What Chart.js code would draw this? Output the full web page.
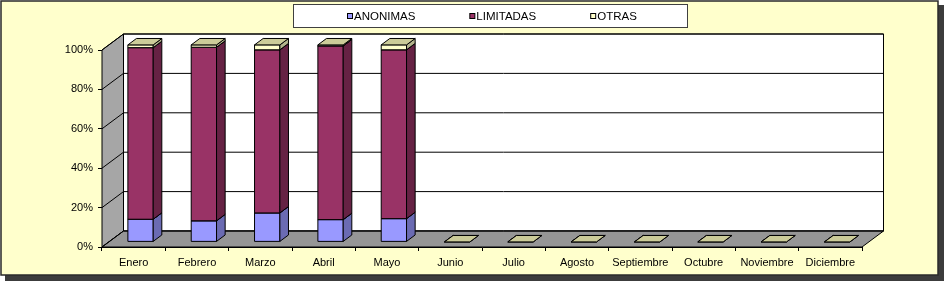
<!DOCTYPE html>
<html><head><meta charset="utf-8">
<script src="https://cdn.jsdelivr.net/npm/chart.js@4/dist/chart.umd.min.js"></script>
<style>html,body{margin:0;padding:0;background:#fff}#wrap{width:944px;height:281px}</style>
</head><body><div id="wrap"><canvas id="c" width="944" height="281"></canvas></div>
<script>
// ---- data ----
const months = ['Enero','Febrero','Marzo','Abril','Mayo','Junio','Julio','Agosto','Septiembre','Octubre','Noviembre','Diciembre'];
const seriesNames = ['ANONIMAS','LIMITADAS','OTRAS'];
const anonimas  = [11.5, 10.7, 14.7, 11.3, 11.8, 0, 0, 0, 0, 0, 0, 0];
const limitadas = [87.1, 88.1, 82.8, 88.2, 85.7, 0, 0, 0, 0, 0, 0, 0];
const otras     = [1.4, 1.2, 2.5, 0.5, 2.5, 0, 0, 0, 0, 0, 0, 0];
const yTickValues = [0, 20, 40, 60, 80, 100];

// ---- styles ----
const faceColors = [
  {front:'#9999FF', side:'#6B6BB3', top:'#7A7ACC'},
  {front:'#993366', side:'#662244', top:'#7A2952'},
  {front:'#FFFFCC', side:'#B3B38C', top:'#CCCC99'}
];
const DX = 21.5, DY = -16, FRONT = 0.32, DEPTH = 0.40;
const FONT = 'Arial, "Liberation Sans", sans-serif';

function poly(ctx, pts, fill, stroke){
  ctx.beginPath();
  ctx.moveTo(pts[0][0], pts[0][1]);
  for (let k=1;k<pts.length;k++) ctx.lineTo(pts[k][0], pts[k][1]);
  ctx.closePath();
  if (fill){ ctx.fillStyle = fill; ctx.fill(); }
  if (stroke){ ctx.strokeStyle = stroke; ctx.lineWidth = 1; ctx.stroke(); }
}

const threeD = {
  id: 'threeD',
  beforeDraw(chart){
    const ctx = chart.ctx;
    ctx.save();
    // frame with shadow
    ctx.fillStyle = '#3c3c3c';
    ctx.fillRect(5, 5, 939, 276);
    ctx.fillStyle = '#FFFFCC';
    ctx.fillRect(1, 1, 937, 274);
    ctx.strokeStyle = '#2a2a2a'; ctx.lineWidth = 1.5;
    ctx.strokeRect(1, 1, 937, 274);
    // legend box
    ctx.fillStyle = '#ffffff';
    ctx.fillRect(293.5, 4.5, 394, 23);
    ctx.strokeStyle = '#404040'; ctx.lineWidth = 1;
    ctx.strokeRect(293.5, 4.5, 394, 23);
    ctx.font = '11.5px ' + FONT;
    ctx.textBaseline = 'middle';
    ctx.textAlign = 'left';
    let x = 347;
    chart.data.datasets.forEach((ds, i) => {
      ctx.fillStyle = faceColors[i].front;
      ctx.fillRect(x + 0.5, 13.5, 5, 5);
      ctx.strokeStyle = '#000';
      ctx.strokeRect(x + 0.5, 13.5, 5, 5);
      ctx.fillStyle = '#000';
      ctx.fillText(ds.label, x + 7, 16.5);
      x += 7 + ctx.measureText(ds.label).width + 54;
    });
    ctx.restore();
  },
  beforeDatasetsDraw(chart){
    const ctx = chart.ctx;
    const a = chart.chartArea;
    const ys = chart.scales.y;
    const L = a.left, R = a.right, T = a.top, B = a.bottom;
    ctx.save();
    ctx.lineJoin = 'miter';
    // left wall
    poly(ctx, [[L,B],[L,T],[L+DX,T+DY],[L+DX,B+DY]], '#A6A6A6', '#000');
    // back wall
    poly(ctx, [[L+DX,T+DY],[R+DX,T+DY],[R+DX,B+DY],[L+DX,B+DY]], '#FFFFFF', '#000');
    // floor
    poly(ctx, [[L,B],[R,B],[R+DX,B+DY],[L+DX,B+DY]], '#969696', '#000');
    // gridlines on walls
    ctx.strokeStyle = '#000'; ctx.lineWidth = 1;
    ys.ticks.forEach(t => {
      const y = ys.getPixelForValue(t.value);
      ctx.beginPath();
      ctx.moveTo(L, y); ctx.lineTo(L+DX, y+DY); ctx.lineTo(R+DX, y+DY);
      ctx.stroke();
    });
    // bars
    const fx = DX*FRONT, fy = DY*FRONT, ddx = DX*DEPTH, ddy = DY*DEPTH;
    for (let i = 0; i < months.length; i++){
      chart.data.datasets.forEach((ds, d) => {
        const el = chart.getDatasetMeta(d).data[i];
        if (!el) return;
        const l = el.x - el.width/2 + fx, r = el.x + el.width/2 + fx;
        const t = el.y + fy, b = el.base + fy;
        const c = faceColors[d];
        if (b - t > 0.01) {
          poly(ctx, [[l,b],[l,t],[r,t],[r,b]], c.front, '#000');
          poly(ctx, [[r,b],[r,t],[r+ddx,t+ddy],[r+ddx,b+ddy]], c.side, '#000');
        }
        poly(ctx, [[l,t],[r,t],[r+ddx,t+ddy],[l+ddx,t+ddy]], c.top, '#000');
      });
    }
    ctx.restore();
    return false;
  }
};

Chart.defaults.font.family = FONT;
Chart.defaults.font.size = 11;
Chart.defaults.color = '#000';

new Chart(document.getElementById('c'), {
  type: 'bar',
  data: {
    labels: months,
    datasets: [
      {label: seriesNames[0], data: anonimas, backgroundColor: faceColors[0].front},
      {label: seriesNames[1], data: limitadas, backgroundColor: faceColors[1].front},
      {label: seriesNames[2], data: otras, backgroundColor: faceColors[2].front}
    ]
  },
  options: {
    responsive: false,
    devicePixelRatio: 1,
    animation: false,
    barPercentage: 0.4,
    categoryPercentage: 1,
    layout: {padding: {left: 42, right: 82, top: 50, bottom: 4}},
    plugins: {legend: {display: false}, tooltip: {enabled: false}},
    scales: {
      x: {
        stacked: true,
        grid: {display: true, drawOnChartArea: false, drawTicks: true, tickLength: 4, offset: true, color: '#000'},
        border: {display: true, color: '#000'},
        ticks: {padding: 5, maxRotation: 0, autoSkip: false, font: {size: 11}},
        afterFit: s => { s.height = 30; }
      },
      y: {
        stacked: true,
        min: 0, max: 100,
        afterBuildTicks: s => { s.ticks = yTickValues.map(v => ({value: v})); },
        grid: {drawOnChartArea: false, tickLength: 4, color: '#000'},
        border: {display: false},
        ticks: {padding: 5, callback: v => v + '%', font: {size: 11}},
        afterFit: s => { s.width = 60; }
      }
    }
  },
  plugins: [threeD]
});
</script>
</body></html>
